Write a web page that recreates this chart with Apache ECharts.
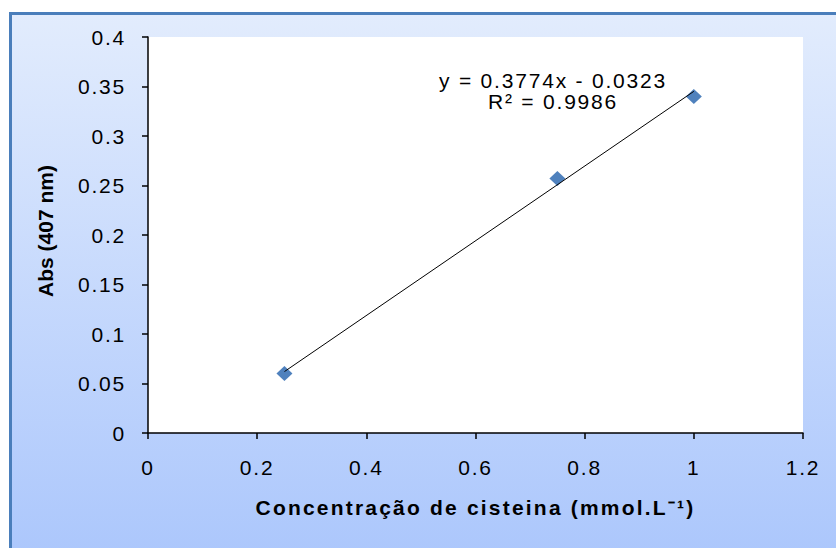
<!DOCTYPE html>
<html><head><meta charset="utf-8">
<script src="https://cdn.jsdelivr.net/npm/echarts@6/dist/echarts.min.js"></script>
<style>
html,body{margin:0;padding:0;background:#fff;}
#chart{width:836px;height:548px;}
#chart text{letter-spacing:1.8px;}
#chart text[style*="bold"]{letter-spacing:2.2px;}
#chart text[style*="LiberationSansY"]{letter-spacing:0px;}
</style></head><body><div id="chart"></div>
<script>
// Data
const concentration = [0.25, 0.75, 1.0];
const absorbance = [0.06, 0.257, 0.34];
// Trendline (Excel linear fit shown on chart)
const slope = 0.3774;
const intercept = -0.0323;
const rSquared = 0.9986;
// Axis ticks
const xTicks = [0, 0.2, 0.4, 0.6, 0.8, 1, 1.2];
const yTicks = [0, 0.05, 0.1, 0.15, 0.2, 0.25, 0.3, 0.35, 0.4];
const xTitle = 'Concentração de cisteina (mmol.L⁻¹)';
const yTitle = 'Abs (407 nm)';

const FONT = "'Liberation Sans', Arial, sans-serif";
const FONT_Y = "LiberationSansY, 'Liberation Sans', Arial, sans-serif";
const points = concentration.map((x, i) => [x, absorbance[i]]);
const xFirst = concentration[0], xLast = concentration[concentration.length - 1];
const trend = [[xFirst, slope * xFirst + intercept], [xLast, slope * xLast + intercept]];
const eqText = 'y = ' + slope + 'x ' + (intercept < 0 ? '- ' : '+ ') + Math.abs(intercept).toFixed(4) + '\nR² = ' + rSquared;

const chart = echarts.init(document.getElementById('chart'), null, {renderer: 'svg'});
chart.setOption({
  animation: false,
  graphic: [
    {type: 'rect', z: -100, shape: {x: 10.5, y: 13.5, width: 900, height: 600},
     style: {fill: new echarts.graphic.LinearGradient(0, 0, 0, 1, [
        {offset: 0, color: '#E2ECFD'}, {offset: 1, color: '#A6C3FC'}]),
       stroke: '#4A7EBB', lineWidth: 3}},
    {type: 'text', z: 100, x: 553, y: 91,
     style: {text: eqText, fill: '#000', font: "21px " + FONT, textAlign: 'center', textVerticalAlign: 'middle', lineHeight: 21}}
  ],
  grid: {left: 148, right: 33, top: 37, bottom: 115, show: true, backgroundColor: '#fff', borderWidth: 0},
  xAxis: {
    type: 'value', min: xTicks[0], max: xTicks[xTicks.length - 1], interval: xTicks[1] - xTicks[0],
    axisLine: {show: true, onZero: false, lineStyle: {color: '#000', width: 1.5}},
    axisTick: {show: true, length: 6, lineStyle: {color: '#000', width: 1.5}},
    splitLine: {show: false},
    axisLabel: {color: '#000', fontSize: 21, fontFamily: FONT, margin: 24},
    name: xTitle, nameLocation: 'middle', nameGap: 64,
    nameTextStyle: {color: '#000', fontSize: 21, fontWeight: 'bold', fontFamily: FONT}
  },
  yAxis: {
    type: 'value', min: yTicks[0], max: yTicks[yTicks.length - 1], interval: yTicks[1] - yTicks[0],
    axisLine: {show: true, onZero: false, lineStyle: {color: '#000', width: 1.5}},
    axisTick: {show: true, length: 6, lineStyle: {color: '#000', width: 1.5}},
    splitLine: {show: false},
    axisLabel: {color: '#000', fontSize: 21, fontFamily: FONT, margin: 22},
    name: yTitle, nameLocation: 'middle', nameGap: 92,
    nameTextStyle: {color: '#000', fontSize: 21, fontWeight: 'bold', fontFamily: FONT_Y, padding: [0, 0, 0, 8]}
  },
  series: [
    {type: 'scatter', data: points, symbol: 'diamond', symbolSize: [16, 15], z: 2,
     itemStyle: {color: '#4F81BD', opacity: 1}},
    {type: 'line', data: trend, symbol: 'none', z: 3, silent: true,
     lineStyle: {color: '#000', width: 1}}
  ]
});
</script></body></html>
